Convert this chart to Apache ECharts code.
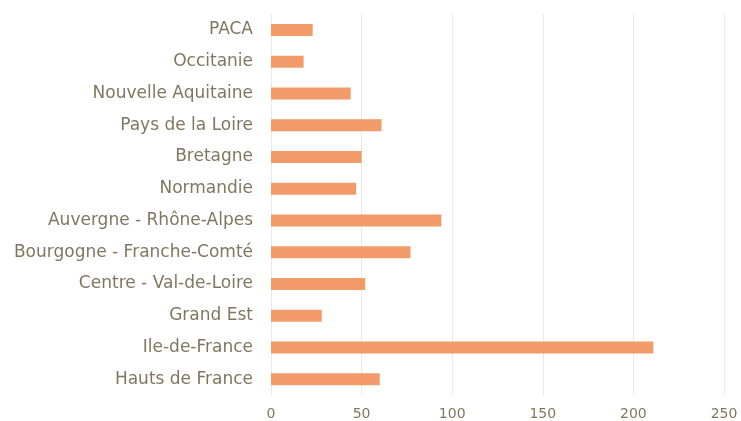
<!DOCTYPE html>
<html>
<head>
<meta charset="utf-8">
<script src="https://cdn.jsdelivr.net/npm/echarts@6/dist/echarts.min.js"></script>
<style>
  html, body { margin: 0; padding: 0; background: #fff; }
  #chart { width: 741px; height: 421px; }
</style>
</head>
<body>
<div id="chart"></div>
<script>
  // regions, bottom to top (as on the axis)
  const regions = ['Hauts de France', 'Ile-de-France', 'Grand Est', 'Centre - Val-de-Loire',
    'Bourgogne - Franche-Comté', 'Auvergne - Rhône-Alpes', 'Normandie', 'Bretagne',
    'Pays de la Loire', 'Nouvelle Aquitaine', 'Occitanie', 'PACA']
  const values = [60, 211, 28, 52, 77, 94, 47, 50, 61, 44, 18, 23]
  const xTicks = [0, 50, 100, 150, 200, 250]

  const textColor = '#817660'
  const chart = echarts.init(document.getElementById('chart'))
  chart.setOption({
    animation: false,
    grid: { left: 271, right: 17, top: 14, bottom: 23, containLabel: false },
    xAxis: {
      type: 'value',
      min: xTicks[0],
      max: xTicks[xTicks.length - 1],
      interval: 50,
      axisLine: { show: false },
      axisTick: { show: false },
      splitLine: { lineStyle: { color: '#ebe9e4', width: 1 } },
      axisLabel: { color: textColor, fontSize: 14, fontFamily: 'DejaVu Sans', margin: 12 }
    },
    yAxis: {
      type: 'category',
      data: regions,
      axisLine: { show: true, lineStyle: { color: '#ebe9e4' } },
      axisTick: { show: false },
      axisLabel: { color: textColor, fontSize: 17, fontFamily: 'DejaVu Sans', margin: 18, padding: [3, 0, 0, 0] }
    },
    series: [{
      type: 'bar',
      data: values,
      barWidth: 12,
      itemStyle: { color: '#f39b68' }
    }]
  })
</script>
</body>
</html>
